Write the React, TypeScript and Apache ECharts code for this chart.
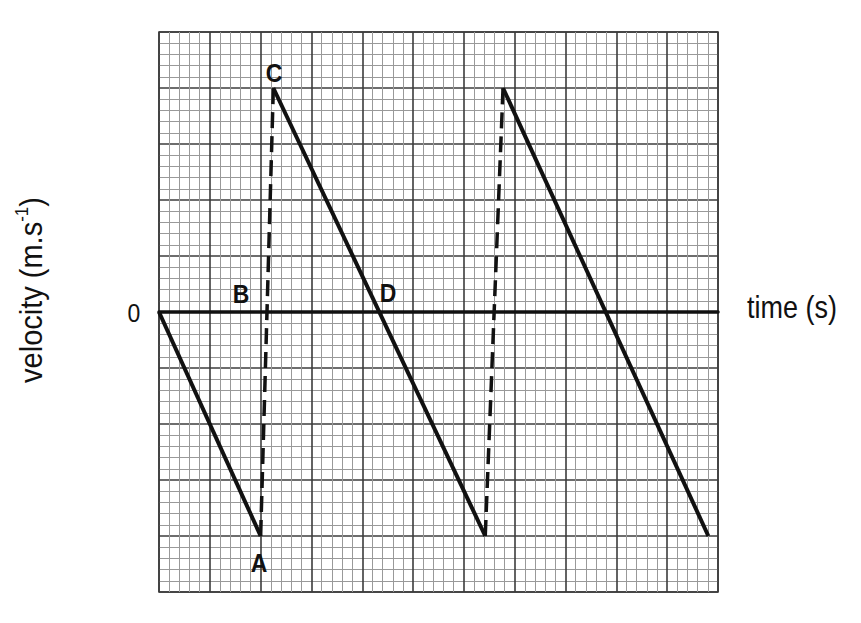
import React, { useEffect, useRef } from "react";
import * as echarts from "echarts";

// time axis (major grid units) and velocity axis (major grid units)
const xRange = [0, 11];
const yRange = [-5, 5];

const solidA = [[0, 0], [2, -4]];
const dashedAC = [[2, -4], [2.25, 4]];
const solidCD = [[2.25, 4], [6.42, -4]];
const dashedSecond = [[6.42, -4], [6.77, 4]];
const solidThird = [[6.77, 4], [10.81, -4]];

const pointLabels = ["C", "B", "D", "A"];

export default function App() {
  const ref = useRef<HTMLDivElement>(null);
  useEffect(() => {
    document.body.style.margin = "0";
    const chart = echarts.init(ref.current!, null, { renderer: "svg" });
    const solidStyle = { color: "#111", width: 4 };
    const dashStyle = { color: "#111", width: 3.5, type: [16, 8] as any };
    const font = "'Liberation Sans', Arial, sans-serif";
    const letter = (t: string, x: number, y: number) => ({
      type: "text",
      x,
      y,
      z: 100,
      scaleY: 1.15,
      style: { text: t, font: `bold 23px ${font}`, fill: "#111", stroke: "none", lineWidth: 0, align: "center", verticalAlign: "middle" },
    });
    chart.setOption({
      animation: false,
      backgroundColor: "#fff",
      grid: {
        left: 159,
        right: 143,
        top: 32,
        bottom: 31,
        show: true,
        borderColor: "#333",
        borderWidth: 1.5,
      },
      xAxis: {
        type: "value",
        min: xRange[0],
        max: xRange[1],
        interval: 1,
        axisLabel: { show: false },
        axisTick: { show: false },
        axisLine: { show: true, onZero: true, lineStyle: { color: "#111", width: 3.5 } },
        splitLine: { show: true, lineStyle: { color: "#3c3c3c", width: 1.6 } },
        minorTick: { show: false, splitNumber: 5 },
        minorSplitLine: { show: true, lineStyle: { color: "#999", width: 1 } },
      },
      yAxis: {
        type: "value",
        min: yRange[0],
        max: yRange[1],
        interval: 1,
        axisLabel: { show: false },
        axisTick: { show: false },
        axisLine: { show: false },
        splitLine: { show: true, lineStyle: { color: "#3c3c3c", width: 1.6 } },
        minorTick: { show: false, splitNumber: 5 },
        minorSplitLine: { show: true, lineStyle: { color: "#999", width: 1 } },
      },
      series: [
        { type: "line", data: solidA, symbol: "none", lineStyle: solidStyle },
        { type: "line", data: dashedAC, symbol: "none", lineStyle: dashStyle },
        { type: "line", data: solidCD, symbol: "none", lineStyle: solidStyle },
        { type: "line", data: dashedSecond, symbol: "none", lineStyle: dashStyle },
        { type: "line", data: solidThird, symbol: "none", lineStyle: solidStyle },
      ],
      graphic: [
        {
          type: "text",
          x: 30,
          y: 290,
          rotation: Math.PI / 2,
          scaleY: 1.1,
          style: {
            text: "velocity (m.s{sup|-1})",
            font: `29px ${font}`,
            fill: "#111",
            align: "center",
            verticalAlign: "middle",
            rich: { sup: { fontSize: 17, verticalAlign: "top", padding: [0, 0, 15, 0], fontFamily: font, fill: "#111" } },
          },
        },
        {
          type: "text",
          x: 747,
          y: 307,
          scaleY: 1.15,
          style: { text: "time (s)", font: `27px ${font}`, fill: "#111", align: "left", verticalAlign: "middle" },
        },
        {
          type: "text",
          x: 134,
          y: 313,
          scaleY: 1.15,
          style: { text: "0", font: `23px ${font}`, fill: "#111", align: "center", verticalAlign: "middle" },
        },
        letter(pointLabels[0], 274, 73),
        letter(pointLabels[1], 241, 294),
        letter(pointLabels[2], 388, 293),
        letter(pointLabels[3], 259, 563),
      ],
    });
    return () => chart.dispose();
  }, []);
  return <div ref={ref} style={{ width: 861, height: 623 }} />;
}
